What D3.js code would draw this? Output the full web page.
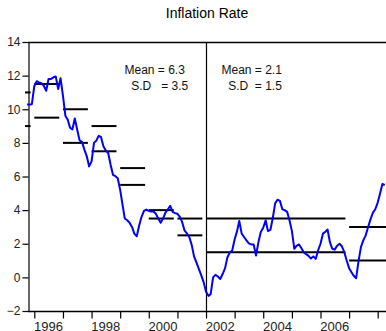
<!DOCTYPE html>
<html>
<head>
<meta charset="utf-8">
<script src="https://cdn.jsdelivr.net/npm/d3@7"></script>
<style>
  body { margin: 0; background: #fff; }
  text { font-family: "Liberation Sans", Arial, sans-serif; }
</style>
</head>
<body>
<div id="chart"></div>
<script>
// monthly inflation rate, first observation 1995M10
var startMonth = "1995-10";
var inflation = [
  10.28, 10.28, 10.3,
  11.37, 11.67, 11.6, 11.55, 11.4, 11.1, 11.8, 11.8, 11.9, 11.95, 11.2, 11.85,
  10.8, 9.6, 9.4, 8.9, 8.8, 9.45, 8.8, 8.15, 8.06, 7.6, 7.2, 6.6,
  6.9, 8.0, 8.12, 8.42, 8.35, 7.8, 7.55, 7.4, 6.7, 6.1, 6.02, 5.9,
  5.2, 4.3, 3.5, 3.4, 3.25, 3.0, 2.6, 2.45, 3.1, 3.6, 3.95, 4.03,
  3.95, 3.92, 3.92, 3.78, 3.5, 3.25, 3.5, 3.85, 4.05, 4.25, 3.9, 3.82,
  3.78, 3.6, 3.3, 2.8, 2.62, 2.4, 1.95, 1.25, 0.88, 0.5, 0.12, -0.28,
  -0.85, -1.1, -1.0, 0.0, 0.15, 0.05, -0.1, 0.2, 0.55, 1.2, 1.48, 1.6,
  2.25, 2.75, 3.35, 2.6, 2.4, 2.2, 2.02, 1.96, 1.96, 1.3, 2.1, 2.7,
  2.95, 3.4, 2.75, 2.82, 3.5, 4.4, 4.62, 4.55, 4.05, 4.0, 3.9, 3.4,
  2.75, 1.7, 1.88, 1.96, 1.75, 1.5, 1.38, 1.28, 1.12, 1.25, 1.1, 1.6,
  2.0, 2.6, 2.7, 2.85, 2.1, 1.7, 1.65, 1.88, 2.0, 1.85, 1.5, 1.0,
  0.55, 0.3, 0.1, -0.05, 0.95, 1.8, 2.2, 2.5, 3.0, 3.45, 3.85, 4.05,
  4.45, 5.0, 5.55, 5.5
];

// mean +/- s.d. bands
var bandFrom = ["1995-01-01", "1996-01-01", "1997-01-01", "1998-01-01", "1999-01-01", "2000-01-01", "2001-01-01", "2002-01-01", "2007-01-01"];
var bandTo   = ["1995-11-15", "1996-11-15", "1997-11-15", "1998-11-15", "1999-11-15", "2000-11-15", "2001-11-15", "2006-11-15", "2008-11-15"];
var bandHigh = [11, 11.5, 10, 9, 6.5, 4, 3.5, 3.5, 3];
var bandLow  = [9, 9.5, 8, 7.5, 5.5, 3.5, 2.5, 1.5, 1];

var breakDate = "2002-01-01";
var noteLeft = ["Mean = 6.3", "  S.D   = 3.5"];
var noteRight = ["Mean = 2.1", "  S.D  = 1.5"];

var yTicks = [-2, 0, 2, 4, 6, 8, 10, 12, 14];
var tickYears = [1996, 1997, 1998, 1999, 2000, 2001, 2002, 2003, 2004, 2005, 2006, 2007, 2008];
var labelYears = [1996, 1998, 2000, 2002, 2004, 2006];

var width = 386, height = 331;
var plotLeft = 28, plotRight = 392, plotTop = 42, plotBottom = 311;

var parseDay = d3.timeParse("%Y-%m-%d");
var parseMonth = d3.timeParse("%Y-%m");
var first = parseMonth(startMonth);
var series = inflation.map(function(v, i) {
  return { date: d3.timeMonth.offset(first, i), value: v };
});

var x = d3.scaleTime()
  .domain([new Date(1996, 0, 1), new Date(2008, 0, 1)])
  .range([34.3, 377.7]);
var y = d3.scaleLinear().domain([-2, 14]).range([plotBottom, plotTop]);

var svg = d3.select("#chart").append("svg")
  .attr("width", width)
  .attr("height", height);

svg.append("defs").append("clipPath").attr("id", "clip")
  .append("rect")
  .attr("x", plotLeft - 3).attr("y", 0)
  .attr("width", plotRight - plotLeft + 3).attr("height", plotBottom);

svg.append("text")
  .attr("x", 207).attr("y", 18)
  .attr("text-anchor", "middle")
  .style("font-size", "14px")
  .text("Inflation Rate");

// frame
svg.append("line")
  .attr("x1", plotLeft).attr("x2", plotRight)
  .attr("y1", plotTop + 0.5).attr("y2", plotTop + 0.5)
  .attr("stroke", "#000").attr("stroke-width", 1.3);

var yAxis = d3.axisLeft(y).tickValues(yTicks).tickSize(6).tickPadding(2).tickSizeOuter(0);
var gy = svg.append("g")
  .attr("transform", "translate(" + (plotLeft + 0.5) + ",0)")
  .call(yAxis);
gy.selectAll("text").style("font-size", "12px").attr("fill", "#222");
gy.selectAll("line, path").attr("stroke", "#000").attr("stroke-width", 1.2);

svg.append("line")
  .attr("x1", plotLeft).attr("x2", plotRight)
  .attr("y1", plotBottom + 0.5).attr("y2", plotBottom + 0.5)
  .attr("stroke", "#000").attr("stroke-width", 1.3);

var xAxis = d3.axisBottom(x)
  .tickValues(tickYears.map(function(d) { return new Date(d, 0, 1); }))
  .tickSize(7).tickSizeOuter(0).tickFormat("");
var gx = svg.append("g")
  .attr("transform", "translate(0," + (plotBottom + 0.5) + ")")
  .call(xAxis);
gx.select(".domain").remove();
gx.selectAll("line").attr("stroke", "#000").attr("stroke-width", 1.2);

svg.selectAll(".yearlab")
  .data(labelYears)
  .enter().append("text")
  .attr("class", "yearlab")
  .attr("x", function(d) { return x(new Date(d, 6, 1)); })
  .attr("y", 331)
  .attr("text-anchor", "middle")
  .attr("fill", "#222")
  .style("font-size", "13px")
  .text(function(d) { return d; });

// break line
var xb = Math.round(x(parseDay(breakDate))) + 0.5;
svg.append("line")
  .attr("x1", xb).attr("x2", xb)
  .attr("y1", plotTop).attr("y2", plotBottom)
  .attr("stroke", "#000").attr("stroke-width", 1.2);

var plot = svg.append("g").attr("clip-path", "url(#clip)");

var bands = bandFrom.map(function(d, i) {
  return { from: parseDay(d), to: parseDay(bandTo[i]), high: bandHigh[i], low: bandLow[i] };
});
bands.forEach(function(b) {
  [b.high, b.low].forEach(function(v) {
    plot.append("line")
      .attr("x1", x(b.from)).attr("x2", x(b.to))
      .attr("y1", y(v)).attr("y2", y(v))
      .attr("stroke", "#000").attr("stroke-width", 2);
  });
});

var line = d3.line()
  .x(function(d) { return x(d.date); })
  .y(function(d) { return y(d.value); });

plot.append("path")
  .datum(series)
  .attr("fill", "none")
  .attr("stroke", "#0000ff")
  .attr("stroke-width", 2)
  .attr("stroke-linejoin", "round")
  .attr("d", line);

function note(lines, xPos, anchor) {
  var t = svg.append("text")
    .attr("x", xPos).attr("y", 74)
    .attr("text-anchor", anchor)
    .style("font-size", "12px")
    .style("white-space", "pre")
    .attr("fill", "#111");
  lines.forEach(function(s, i) {
    t.append("tspan").attr("x", xPos).attr("dy", i ? 15.5 : 0).text(s);
  });
}
note(noteLeft, xb - 82, "start");
note(noteRight, xb + 15, "start");
</script>
</body>
</html>
